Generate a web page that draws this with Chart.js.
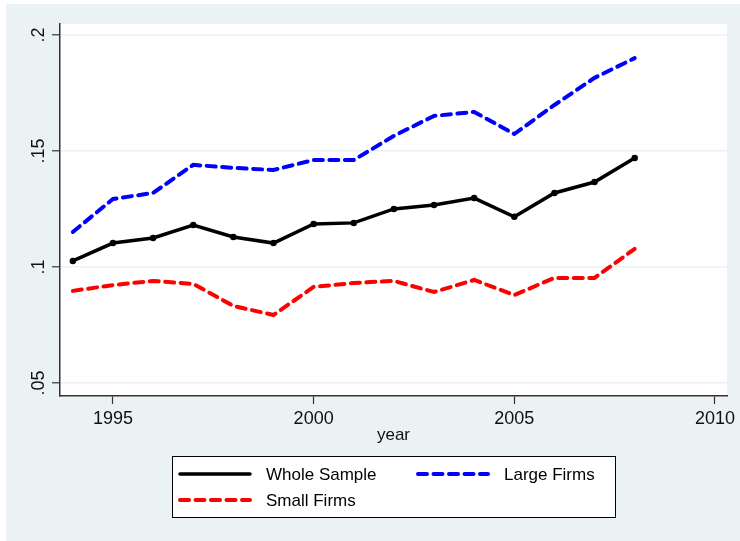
<!DOCTYPE html>
<html>
<head>
<meta charset="utf-8">
<script src="https://cdn.jsdelivr.net/npm/chart.js@4/dist/chart.umd.min.js"></script>
<style>
  html, body { margin: 0; padding: 0; background: #fff; }
  #wrap { width: 740px; height: 541px; }
</style>
</head>
<body>
<div id="wrap"><canvas id="chart" width="740" height="541"></canvas></div>
<script>
const years = [1994, 1995, 1996, 1997, 1998, 1999, 2000, 2001, 2002, 2003, 2004, 2005, 2006, 2007, 2008];
const wholeSample = [0.1026, 0.1103, 0.1125, 0.1181, 0.1129, 0.1103, 0.1185, 0.1190, 0.1250, 0.1267, 0.1297, 0.1216, 0.1319, 0.1366, 0.1470];
const largeFirms = [0.1151, 0.1293, 0.1319, 0.1440, 0.1427, 0.1418, 0.1461, 0.1461, 0.1565, 0.1651, 0.1668, 0.1573, 0.1698, 0.1815, 0.1900];
const smallFirms = [0.0897, 0.0922, 0.0940, 0.0927, 0.0832, 0.0793, 0.0914, 0.0931, 0.0940, 0.0892, 0.0944, 0.0879, 0.0953, 0.0953, 0.1078];
const seriesNames = ["Whole Sample", "Large Firms", "Small Firms"];
const xTicks = [1995, 2000, 2005, 2010];
const yTicks = [0.05, 0.1, 0.15, 0.2];
const yTickLabels = [".05", ".1", ".15", ".2"];

const BG = "#eaf2f3";
const FONT = "'Liberation Sans', Arial, sans-serif";

function pts(vals) {
    return vals.map((v, i) => ({ x: years[i], y: v }));
}

// outer grey-blue frame and white plot region
const backgroundPlugin = {
    id: "stataBackground",
    beforeDraw(chart) {
        const ctx = chart.ctx;
        const a = chart.chartArea;
        ctx.save();
        ctx.fillStyle = "#fff";
        ctx.fillRect(0, 0, chart.width, chart.height);
        ctx.fillStyle = BG;
        ctx.fillRect(6, 4, chart.width - 6, chart.height - 4);
        ctx.fillStyle = "#fff";
        ctx.fillRect(a.left, a.top, a.right - a.left, a.bottom - a.top);
        ctx.restore();
    }
};

// boxed two-column legend below the x axis title
const legendPlugin = {
    id: "boxLegend",
    afterDraw(chart) {
        const ctx = chart.ctx;
        const box = { x: 172, y: 456, w: 443, h: 61 };
        ctx.save();
        ctx.fillStyle = "#fff";
        ctx.fillRect(box.x, box.y, box.w, box.h);
        ctx.strokeStyle = "#000";
        ctx.lineWidth = 1;
        ctx.strokeRect(box.x + 0.5, box.y + 0.5, box.w, box.h);

        chart.data.datasets.forEach((ds, i) => {
            const col = i % 2, row = Math.floor(i / 2);
            const x0 = 180 + col * 238;
            const y = 474 + row * 26;
            ctx.strokeStyle = ds.borderColor;
            ctx.lineWidth = ds.borderWidth;
            ctx.lineCap = "round";
            ctx.setLineDash(ds.borderDash || []);
            ctx.beginPath();
            ctx.moveTo(x0, y);
            ctx.lineTo(x0 + 70, y);
            ctx.stroke();
            ctx.setLineDash([]);
            ctx.fillStyle = "#000";
            ctx.font = "17px " + FONT;
            ctx.textBaseline = "middle";
            ctx.textAlign = "left";
            ctx.fillText(ds.label, x0 + 86, y + 1);
        });
        ctx.restore();
    }
};

const ctx = document.getElementById("chart").getContext("2d");
new Chart(ctx, {
    type: "line",
    data: {
        datasets: [{
            label: seriesNames[0],
            data: pts(wholeSample),
            borderColor: "#000000",
            backgroundColor: "#000000",
            borderWidth: 3.5,
            pointRadius: 1.5,
            borderDash: []
        }, {
            label: seriesNames[1],
            data: pts(largeFirms),
            borderColor: "#0000ff",
            backgroundColor: "#0000ff",
            borderWidth: 4,
            borderCapStyle: "round",
            borderDash: [9, 6.5],
            pointRadius: 0
        }, {
            label: seriesNames[2],
            data: pts(smallFirms),
            borderColor: "#ff0000",
            backgroundColor: "#ff0000",
            borderWidth: 4,
            borderCapStyle: "round",
            borderDash: [9, 6.5],
            pointRadius: 0
        }]
    },
    options: {
        responsive: false,
        animation: false,
        events: [],
        layout: { padding: { left: 6, top: 24, right: 13, bottom: 0 } },
        plugins: {
            legend: { display: false },
            tooltip: { enabled: false }
        },
        elements: { line: { tension: 0 } },
        scales: {
            x: {
                type: "linear",
                min: 1993.68,
                max: 2010.3,
                afterBuildTicks(scale) {
                    scale.ticks = xTicks.map(v => ({ value: v }));
                },
                afterFit(scale) {
                    scale.height = 145;
                },
                border: { color: "#333", width: 1.5 },
                grid: {
                    drawOnChartArea: false,
                    drawTicks: true,
                    tickLength: 8,
                    tickColor: "#333",
                    tickWidth: 1.2
                },
                ticks: {
                    color: "#111",
                    font: { family: FONT, size: 18 },
                    padding: 4,
                    maxRotation: 0,
                    callback: v => String(v)
                },
                title: {
                    display: true,
                    text: "year",
                    color: "#111",
                    font: { family: FONT, size: 17 },
                    padding: { top: 0, bottom: 95 }
                }
            },
            y: {
                type: "linear",
                min: 0.0444,
                max: 0.2047,
                afterBuildTicks(scale) {
                    scale.ticks = yTicks.map(v => ({ value: v }));
                },
                afterFit(scale) {
                    scale.width = 54;
                },
                border: { color: "#333", width: 1.5 },
                grid: {
                    color: BG,
                    lineWidth: 1.6,
                    drawTicks: true,
                    tickLength: 8,
                    tickColor: "#333",
                    tickWidth: 1.2
                },
                ticks: {
                    color: "#111",
                    font: { family: FONT, size: 18 },
                    minRotation: 90,
                    maxRotation: 90,
                    crossAlign: "center",
                    padding: 0,
                    callback: (v, i) => yTickLabels[yTicks.indexOf(v)]
                }
            }
        }
    },
    plugins: [backgroundPlugin, legendPlugin]
});
</script>
</body>
</html>
